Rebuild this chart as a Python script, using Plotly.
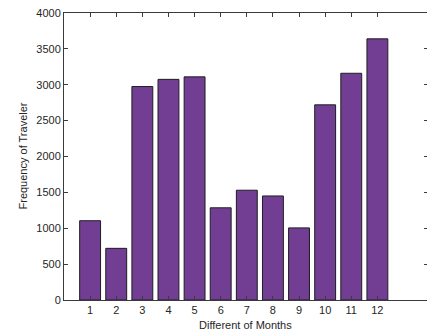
import plotly.graph_objects as go

months = [1, 2, 3, 4, 5, 6, 7, 8, 9, 10, 11, 12]
frequency = [1105, 720, 2975, 3075, 3110, 1285, 1530, 1450, 1005, 2720, 3160, 3640]
y_ticks = [0, 500, 1000, 1500, 2000, 2500, 3000, 3500, 4000]

axis_color = "#3a3a3a"
font = dict(family="Liberation Sans, Arial, sans-serif", size=11, color="#262626")

fig = go.Figure()
fig.add_trace(go.Bar(
    x=months, y=frequency, width=0.8,
    marker=dict(color="#723E94", line=dict(color="#1e1e1e", width=1)),
    showlegend=False,
))
# invisible trace for right-hand ticks
fig.add_trace(go.Scatter(x=[months[0]], y=[frequency[0]], yaxis="y2", mode="markers",
                         marker=dict(opacity=0), showlegend=False, hoverinfo="skip"))

fig.update_layout(
    width=427, height=331,
    margin=dict(l=64, r=0, t=13, b=31),
    paper_bgcolor="white", plot_bgcolor="white",
    font=font,
    xaxis=dict(
        range=[0, 13.9], tickvals=months, ticktext=[str(m) for m in months],
        ticks="inside", ticklen=4, tickcolor=axis_color,
        showline=True, linecolor=axis_color, linewidth=1, mirror="ticks",
        showgrid=False, zeroline=False, automargin=False,
        tickfont=font,
    ),
    yaxis=dict(
        range=[0, 4000], tickvals=y_ticks,
        ticks="inside", ticklen=4, tickcolor=axis_color,
        showline=True, linecolor=axis_color, linewidth=1,
        showgrid=False, zeroline=False, automargin=False,
        tickfont=font,
    ),
    yaxis2=dict(
        range=[0, 4000], tickvals=y_ticks, overlaying="y", side="right",
        ticks="inside", ticklen=3, tickcolor=axis_color,
        showticklabels=False, showline=False, showgrid=False, zeroline=False,
        automargin=False,
    ),
    annotations=[
        dict(text="Different of Months", xref="paper", yref="paper", x=0.5, y=0,
             yshift=-25, xanchor="center", yanchor="middle",
             showarrow=False, font=font),
        dict(text="Frequency of Traveler", xref="paper", yref="paper", x=0, y=0.5,
             xshift=-42, textangle=-90, xanchor="center", yanchor="middle",
             showarrow=False, font=font),
    ],
)

fig.write_html("out.html", config={"displayModeBar": False},
               post_script="document.body.style.margin='0';document.body.style.overflow='hidden';")
